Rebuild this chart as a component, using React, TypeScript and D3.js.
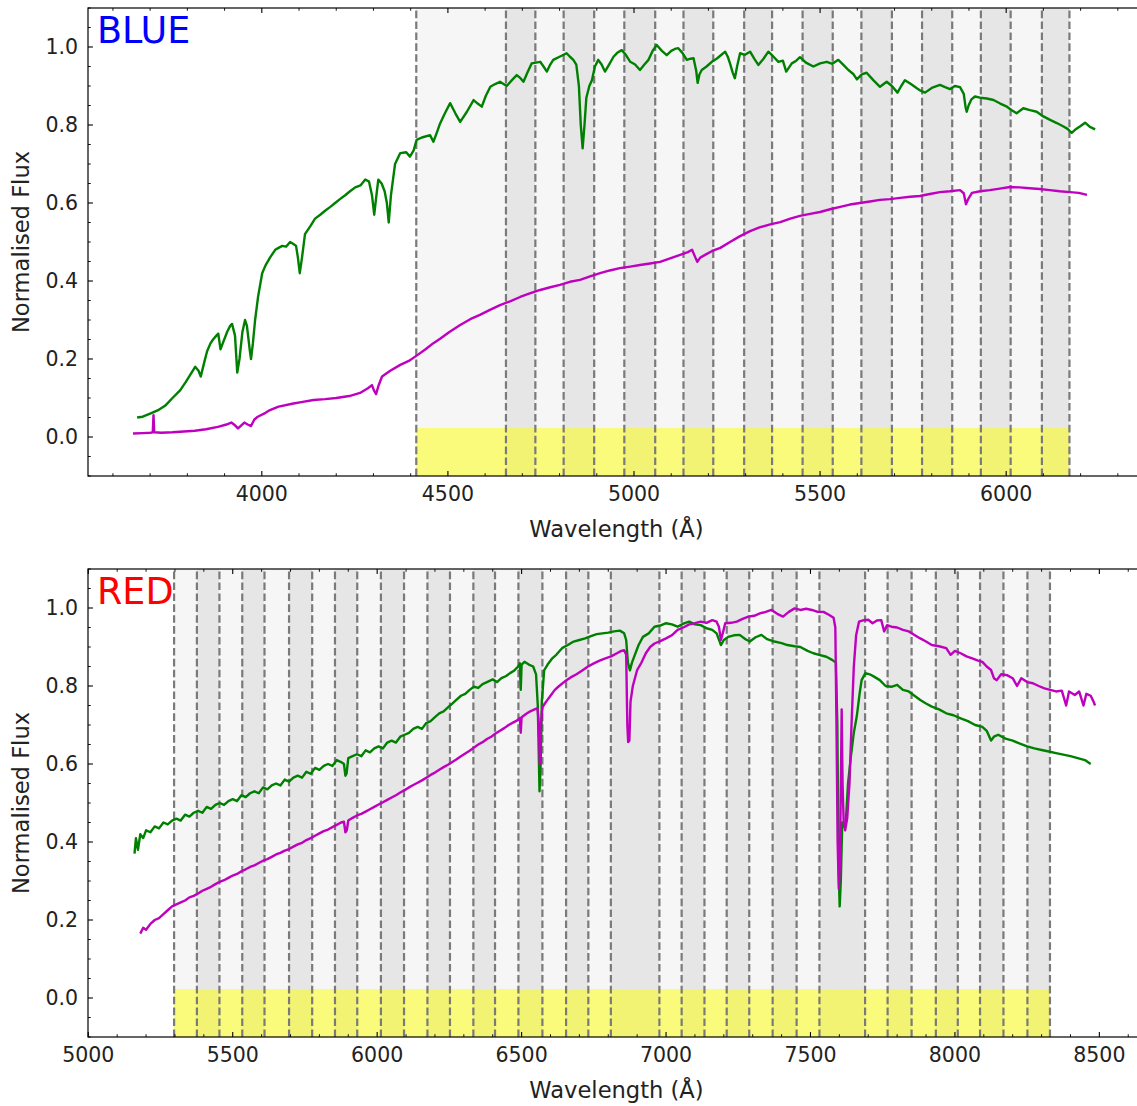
import React from 'react';
import * as d3 from 'd3';

type Pt = [number, number];

// ---------- data ----------
const topXTicks = [4000, 4500, 5000, 5500, 6000];
const botXTicks = [5000, 5500, 6000, 6500, 7000, 7500, 8000, 8500];
const yTicks = [0.0, 0.2, 0.4, 0.6, 0.8, 1.0];

const topEdges = [4415, 4656, 4735, 4811, 4893, 4974, 5057, 5133, 5213, 5296, 5371, 5453, 5534, 5611, 5693, 5774, 5855, 5932, 6012, 6096, 6170];
const botEdges = [5297, 5376, 5454, 5533, 5610, 5695, 5775, 5854, 5931, 6013, 6093, 6174, 6252, 6333, 6408, 6489, 6572, 6654, 6731, 6809, 6977, 7054, 7133, 7210, 7288, 7369, 7452, 7531, 7689, 7767, 7850, 7934, 8010, 8087, 8168, 8251, 8329];

const blueGreen: Pt[] = [[3665,0.05],[3680,0.052],[3700,0.06],[3720,0.068],[3740,0.08],[3760,0.1],[3781,0.12],[3795,0.14],[3808,0.16],[3821,0.18],[3830,0.17],[3836,0.155],[3845,0.19],[3853,0.22],[3862,0.24],[3869,0.25],[3878,0.26],[3883,0.265],[3889,0.225],[3895,0.24],[3907,0.27],[3915,0.285],[3920,0.29],[3928,0.26],[3934,0.165],[3940,0.2],[3948,0.27],[3955,0.3],[3960,0.285],[3968,0.22],[3971,0.2],[3976,0.24],[3982,0.3],[3990,0.36],[4001,0.42],[4010,0.44],[4022,0.46],[4036,0.48],[4045,0.485],[4055,0.49],[4065,0.488],[4076,0.5],[4085,0.495],[4092,0.49],[4097,0.46],[4102,0.42],[4108,0.46],[4116,0.52],[4130,0.54],[4143,0.56],[4157,0.57],[4170,0.58],[4184,0.59],[4197,0.6],[4210,0.61],[4224,0.62],[4237,0.63],[4251,0.64],[4265,0.645],[4278,0.66],[4288,0.655],[4296,0.62],[4302,0.57],[4308,0.62],[4313,0.66],[4322,0.65],[4330,0.63],[4336,0.6],[4341,0.55],[4347,0.62],[4358,0.70],[4372,0.728],[4388,0.73],[4398,0.719],[4408,0.735],[4416,0.762],[4430,0.768],[4452,0.774],[4461,0.757],[4470,0.78],[4479,0.804],[4492,0.83],[4506,0.856],[4520,0.83],[4533,0.808],[4551,0.834],[4569,0.864],[4580,0.855],[4591,0.847],[4602,0.875],[4614,0.898],[4627,0.905],[4640,0.911],[4658,0.9],[4672,0.915],[4685,0.928],[4695,0.92],[4703,0.911],[4714,0.935],[4725,0.958],[4737,0.96],[4748,0.962],[4757,0.95],[4766,0.937],[4775,0.955],[4783,0.967],[4800,0.975],[4819,0.984],[4828,0.975],[4837,0.967],[4845,0.955],[4852,0.9],[4857,0.8],[4862,0.74],[4867,0.8],[4872,0.87],[4880,0.9],[4887,0.915],[4895,0.95],[4904,0.967],[4913,0.955],[4922,0.937],[4933,0.955],[4945,0.975],[4955,0.985],[4967,0.992],[4978,0.98],[4990,0.962],[5003,0.955],[5016,0.941],[5028,0.955],[5039,0.967],[5050,0.99],[5061,1.005],[5075,0.99],[5088,0.979],[5100,0.99],[5110,0.995],[5119,0.997],[5130,0.985],[5142,0.967],[5152,0.97],[5160,0.971],[5167,0.94],[5171,0.908],[5176,0.93],[5182,0.941],[5195,0.95],[5209,0.962],[5222,0.97],[5235,0.98],[5245,0.988],[5252,0.975],[5258,0.958],[5265,0.935],[5271,0.92],[5277,0.95],[5285,0.984],[5298,0.98],[5312,0.988],[5323,0.97],[5334,0.954],[5348,0.97],[5361,0.988],[5375,0.975],[5388,0.962],[5400,0.965],[5409,0.937],[5424,0.958],[5436,0.965],[5446,0.974],[5462,0.96],[5482,0.95],[5500,0.958],[5518,0.962],[5533,0.957],[5549,0.967],[5562,0.955],[5576,0.941],[5590,0.93],[5599,0.917],[5612,0.93],[5625,0.934],[5643,0.915],[5661,0.898],[5679,0.911],[5693,0.9],[5708,0.883],[5718,0.9],[5728,0.915],[5744,0.905],[5760,0.894],[5770,0.888],[5782,0.883],[5800,0.895],[5822,0.903],[5836,0.897],[5849,0.892],[5862,0.9],[5876,0.897],[5886,0.88],[5891,0.845],[5894,0.834],[5899,0.85],[5906,0.865],[5916,0.873],[5930,0.87],[5948,0.868],[5966,0.864],[5984,0.855],[6002,0.847],[6015,0.838],[6028,0.83],[6046,0.843],[6064,0.838],[6082,0.834],[6100,0.822],[6118,0.813],[6136,0.805],[6154,0.796],[6165,0.79],[6176,0.78],[6188,0.79],[6199,0.797],[6212,0.806],[6225,0.795],[6239,0.789]];

const blueMagenta: Pt[] = [[3654,0.009],[3680,0.01],[3700,0.011],[3707,0.012],[3709,0.056],[3711,0.012],[3730,0.011],[3760,0.012],[3790,0.014],[3820,0.016],[3850,0.02],[3882,0.026],[3905,0.032],[3918,0.037],[3928,0.03],[3936,0.022],[3945,0.03],[3953,0.037],[3962,0.032],[3971,0.028],[3980,0.045],[3989,0.052],[4010,0.062],[4022,0.069],[4045,0.078],[4085,0.086],[4110,0.09],[4139,0.095],[4170,0.097],[4200,0.1],[4235,0.105],[4264,0.113],[4285,0.125],[4296,0.133],[4301,0.12],[4307,0.11],[4313,0.13],[4323,0.155],[4345,0.17],[4372,0.185],[4395,0.195],[4415,0.208],[4440,0.225],[4460,0.24],[4479,0.252],[4505,0.27],[4533,0.287],[4560,0.302],[4586,0.313],[4613,0.326],[4640,0.338],[4667,0.348],[4694,0.359],[4720,0.368],[4748,0.377],[4775,0.384],[4801,0.39],[4828,0.398],[4855,0.403],[4882,0.412],[4909,0.42],[4935,0.427],[4962,0.433],[4990,0.437],[5016,0.441],[5043,0.445],[5070,0.449],[5097,0.458],[5124,0.467],[5145,0.474],[5156,0.48],[5165,0.46],[5170,0.449],[5178,0.46],[5191,0.467],[5210,0.477],[5232,0.485],[5258,0.5],[5285,0.515],[5312,0.528],[5339,0.538],[5366,0.545],[5393,0.551],[5420,0.56],[5446,0.567],[5473,0.572],[5500,0.577],[5527,0.584],[5554,0.59],[5580,0.596],[5607,0.6],[5634,0.604],[5661,0.608],[5688,0.61],[5715,0.613],[5742,0.616],[5768,0.618],[5795,0.623],[5822,0.628],[5849,0.63],[5876,0.633],[5886,0.625],[5892,0.597],[5898,0.61],[5908,0.626],[5930,0.63],[5956,0.633],[5983,0.637],[6010,0.641],[6036,0.64],[6063,0.638],[6090,0.636],[6117,0.633],[6144,0.63],[6171,0.628],[6195,0.626],[6217,0.621]];

const redGreen: Pt[] = [[5160,0.37],[5165,0.41],[5172,0.38],[5180,0.42],[5190,0.41],[5200,0.43],[5215,0.425],[5230,0.44],[5245,0.435],[5260,0.45],[5275,0.445],[5290,0.455],[5305,0.46],[5320,0.455],[5335,0.47],[5350,0.465],[5365,0.475],[5380,0.48],[5395,0.475],[5410,0.49],[5425,0.485],[5440,0.495],[5455,0.5],[5470,0.495],[5485,0.505],[5500,0.51],[5515,0.505],[5530,0.52],[5545,0.515],[5560,0.525],[5575,0.53],[5590,0.525],[5605,0.54],[5620,0.535],[5635,0.545],[5650,0.55],[5665,0.545],[5680,0.56],[5695,0.555],[5710,0.565],[5725,0.57],[5740,0.565],[5755,0.58],[5770,0.575],[5785,0.59],[5800,0.585],[5815,0.595],[5830,0.6],[5845,0.595],[5860,0.61],[5875,0.605],[5885,0.6],[5890,0.57],[5894,0.575],[5900,0.615],[5915,0.62],[5930,0.625],[5945,0.62],[5960,0.635],[5975,0.63],[5990,0.64],[6005,0.645],[6020,0.64],[6035,0.655],[6050,0.66],[6065,0.655],[6080,0.67],[6095,0.675],[6110,0.68],[6125,0.69],[6140,0.695],[6155,0.69],[6170,0.705],[6185,0.71],[6200,0.72],[6215,0.73],[6230,0.735],[6245,0.745],[6260,0.755],[6275,0.765],[6290,0.775],[6305,0.78],[6320,0.79],[6335,0.798],[6350,0.795],[6365,0.805],[6380,0.81],[6400,0.817],[6415,0.81],[6430,0.82],[6445,0.825],[6460,0.833],[6475,0.84],[6488,0.85],[6494,0.858],[6497,0.79],[6500,0.855],[6510,0.862],[6525,0.855],[6540,0.85],[6550,0.83],[6556,0.75],[6562,0.53],[6566,0.6],[6570,0.76],[6578,0.84],[6590,0.855],[6605,0.87],[6620,0.88],[6640,0.897],[6660,0.905],[6680,0.914],[6700,0.918],[6720,0.922],[6740,0.928],[6760,0.933],[6780,0.935],[6800,0.937],[6820,0.94],[6840,0.942],[6855,0.935],[6862,0.918],[6868,0.86],[6875,0.84],[6882,0.86],[6892,0.88],[6905,0.905],[6920,0.926],[6940,0.935],[6960,0.952],[6980,0.955],[7000,0.961],[7020,0.958],[7040,0.952],[7060,0.96],[7080,0.965],[7100,0.958],[7120,0.956],[7140,0.948],[7160,0.944],[7175,0.935],[7190,0.905],[7200,0.918],[7215,0.926],[7235,0.93],[7255,0.931],[7275,0.92],[7290,0.914],[7310,0.925],[7330,0.931],[7350,0.92],[7375,0.914],[7400,0.91],[7420,0.905],[7445,0.902],[7465,0.9],[7490,0.89],[7510,0.884],[7530,0.88],[7555,0.875],[7575,0.867],[7588,0.86],[7593,0.7],[7597,0.35],[7601,0.235],[7605,0.3],[7610,0.45],[7616,0.44],[7622,0.45],[7630,0.55],[7640,0.62],[7650,0.68],[7660,0.721],[7670,0.78],[7677,0.815],[7690,0.833],[7705,0.83],[7720,0.824],[7740,0.815],[7760,0.8],[7780,0.798],[7800,0.803],[7820,0.79],[7840,0.786],[7860,0.775],[7880,0.764],[7900,0.755],[7920,0.747],[7945,0.74],[7970,0.73],[7995,0.725],[8020,0.717],[8045,0.71],[8070,0.7],[8095,0.695],[8110,0.685],[8125,0.66],[8135,0.67],[8150,0.675],[8175,0.665],[8200,0.66],[8225,0.652],[8250,0.645],[8275,0.64],[8300,0.636],[8325,0.632],[8350,0.628],[8375,0.624],[8400,0.62],[8425,0.615],[8450,0.61],[8470,0.6]];

const redMagenta: Pt[] = [[5180,0.165],[5190,0.18],[5200,0.175],[5215,0.19],[5230,0.2],[5245,0.205],[5260,0.215],[5275,0.225],[5290,0.235],[5305,0.24],[5320,0.245],[5335,0.25],[5350,0.258],[5365,0.262],[5380,0.268],[5395,0.275],[5410,0.28],[5425,0.285],[5440,0.292],[5455,0.298],[5470,0.302],[5485,0.308],[5500,0.314],[5515,0.318],[5530,0.325],[5545,0.33],[5560,0.336],[5575,0.34],[5590,0.346],[5605,0.352],[5620,0.356],[5635,0.362],[5650,0.368],[5665,0.372],[5680,0.378],[5695,0.382],[5710,0.388],[5725,0.394],[5740,0.398],[5755,0.405],[5770,0.41],[5785,0.416],[5800,0.422],[5815,0.428],[5830,0.432],[5845,0.438],[5860,0.444],[5875,0.45],[5885,0.452],[5890,0.425],[5895,0.43],[5900,0.455],[5915,0.462],[5930,0.468],[5945,0.472],[5960,0.478],[5975,0.484],[5990,0.49],[6005,0.496],[6020,0.502],[6035,0.508],[6050,0.514],[6065,0.52],[6080,0.527],[6095,0.533],[6110,0.54],[6125,0.546],[6140,0.552],[6155,0.558],[6170,0.565],[6185,0.572],[6200,0.578],[6215,0.585],[6230,0.592],[6245,0.598],[6260,0.605],[6275,0.612],[6290,0.62],[6305,0.627],[6320,0.634],[6335,0.642],[6350,0.65],[6365,0.656],[6380,0.664],[6395,0.67],[6410,0.678],[6425,0.685],[6440,0.692],[6455,0.7],[6470,0.706],[6485,0.712],[6494,0.718],[6497,0.68],[6500,0.72],[6515,0.728],[6530,0.735],[6545,0.74],[6555,0.743],[6560,0.7],[6563,0.6],[6567,0.7],[6572,0.745],[6585,0.76],[6600,0.775],[6615,0.79],[6630,0.8],[6650,0.812],[6670,0.822],[6690,0.83],[6710,0.84],[6730,0.85],[6750,0.858],[6770,0.865],[6790,0.871],[6810,0.876],[6830,0.884],[6845,0.89],[6855,0.892],[6862,0.88],[6866,0.7],[6869,0.656],[6873,0.66],[6877,0.76],[6885,0.8],[6900,0.841],[6915,0.86],[6930,0.884],[6945,0.9],[6960,0.909],[6980,0.915],[7000,0.922],[7020,0.93],[7040,0.944],[7060,0.95],[7080,0.958],[7100,0.961],[7120,0.965],[7140,0.962],[7160,0.969],[7175,0.965],[7183,0.952],[7190,0.918],[7198,0.94],[7205,0.961],[7225,0.962],[7245,0.965],[7265,0.972],[7285,0.978],[7305,0.98],[7325,0.986],[7345,0.99],[7365,0.995],[7385,0.985],[7405,0.978],[7425,0.99],[7445,0.999],[7465,0.995],[7485,0.998],[7505,0.995],[7525,0.99],[7545,0.99],[7565,0.982],[7580,0.975],[7586,0.95],[7590,0.7],[7594,0.4],[7598,0.28],[7602,0.35],[7606,0.6],[7608,0.74],[7611,0.55],[7615,0.45],[7620,0.43],[7627,0.46],[7635,0.55],[7642,0.7],[7650,0.85],[7658,0.93],[7668,0.965],[7685,0.969],[7700,0.97],[7715,0.961],[7730,0.968],[7745,0.969],[7755,0.94],[7765,0.956],[7780,0.952],[7800,0.95],[7820,0.944],[7840,0.94],[7860,0.931],[7880,0.922],[7900,0.914],[7920,0.905],[7945,0.902],[7970,0.897],[7985,0.88],[8000,0.89],[8020,0.884],[8040,0.876],[8060,0.871],[8080,0.865],[8095,0.862],[8110,0.85],[8125,0.841],[8135,0.82],[8145,0.815],[8160,0.83],[8180,0.828],[8200,0.82],[8215,0.8],[8230,0.82],[8250,0.81],[8270,0.807],[8290,0.8],[8310,0.794],[8330,0.79],[8350,0.786],[8370,0.788],[8385,0.75],[8395,0.786],[8415,0.777],[8430,0.786],[8445,0.75],[8455,0.78],[8470,0.775],[8480,0.76],[8485,0.75]];

// ---------- layout ----------
const FONT = "'DejaVu Sans', sans-serif";
const AX_LEFT = 88;
const AX_RIGHT = 1145;
const AX_H = 468;

interface PanelProps {
  id: string;
  top: number;
  xDomain: [number, number];
  xTicks: number[];
  edges: number[];
  green: Pt[];
  magenta: Pt[];
  title: string;
  titleColor: string;
}

function Panel({ id, top, xDomain, xTicks, edges, green, magenta, title, titleColor }: PanelProps) {
  const bottom = top + AX_H;
  const x = d3.scaleLinear().domain(xDomain).range([AX_LEFT, AX_RIGHT]);
  const y = d3.scaleLinear().domain([-0.1, 1.1]).range([bottom, top]);
  const line = d3.line<Pt>().x(d => x(d[0])).y(d => y(d[1]));

  const bands = edges.slice(0, -1).map((a, i) => ({ a, b: edges[i + 1], dark: i % 2 === 1 }));
  const minorX = d3.range(Math.ceil(xDomain[0] / 100) * 100, xDomain[1], 100).filter(v => v % 500 !== 0);
  const minorY = d3.range(-2, 23).filter(k => !(k % 4 === 0 && k >= 0 && k <= 20)).map(k => k * 0.05);
  const clipId = `clip-${id}`;
  const tickCol = '#000';
  const textCol = '#222';

  return (
    <g>
      <defs>
        <clipPath id={clipId}>
          <rect x={AX_LEFT} y={top} width={AX_RIGHT - AX_LEFT} height={AX_H} />
        </clipPath>
      </defs>
      {bands.map((b, i) => (
        <rect key={`b${i}`} x={x(b.a)} y={top} width={x(b.b) - x(b.a)} height={AX_H}
          fill={b.dark ? '#e6e6e6' : '#f6f6f6'} />
      ))}
      <rect x={x(edges[0])} y={y(0.023)} width={x(edges[edges.length - 1]) - x(edges[0])}
        height={bottom - y(0.023)} fill="#ffff00" fillOpacity={0.5} />
      {edges.map((e, i) => (
        <line key={`e${i}`} x1={x(e)} x2={x(e)} y1={bottom} y2={top}
          stroke="#7a7a7a" strokeWidth={2.2} strokeDasharray="7.6 3.3" />
      ))}
      <g clipPath={`url(#${clipId})`}>
        <path d={line(green) || ''} fill="none" stroke="#008000" strokeWidth={2.4} strokeLinejoin="round" />
        <path d={line(magenta) || ''} fill="none" stroke="#bf00bf" strokeWidth={2.4} strokeLinejoin="round" />
      </g>
      <rect x={AX_LEFT} y={top} width={AX_RIGHT - AX_LEFT} height={AX_H} fill="none" stroke="#000" strokeWidth={1.2} />
      {xTicks.map(t => (
        <g key={`xt${t}`}>
          <line x1={x(t)} x2={x(t)} y1={bottom} y2={bottom - 4.9} stroke={tickCol} strokeWidth={1.1} />
          <line x1={x(t)} x2={x(t)} y1={top} y2={top + 4.9} stroke={tickCol} strokeWidth={1.1} />
          <text x={x(t)} y={bottom + 25} textAnchor="middle" fontFamily={FONT} fontSize={20.5} fill={textCol}>{t}</text>
        </g>
      ))}
      {minorX.map(t => (
        <g key={`xm${t}`}>
          <line x1={x(t)} x2={x(t)} y1={bottom} y2={bottom - 2.8} stroke={tickCol} strokeWidth={0.9} />
          <line x1={x(t)} x2={x(t)} y1={top} y2={top + 2.8} stroke={tickCol} strokeWidth={0.9} />
        </g>
      ))}
      {yTicks.map(t => (
        <g key={`yt${t}`}>
          <line x1={AX_LEFT} x2={AX_LEFT + 4.9} y1={y(t)} y2={y(t)} stroke={tickCol} strokeWidth={1.1} />
          <text x={AX_LEFT - 10} y={y(t)} dy="0.36em" textAnchor="end" fontFamily={FONT} fontSize={20.5} fill={textCol}>{t.toFixed(1)}</text>
        </g>
      ))}
      {minorY.map(t => (
        <line key={`ym${t}`} x1={AX_LEFT} x2={AX_LEFT + 2.8} y1={y(t)} y2={y(t)} stroke={tickCol} strokeWidth={0.9} />
      ))}
      <text x={(AX_LEFT + AX_RIGHT) / 2} y={bottom + 60.5} textAnchor="middle" fontFamily={FONT} fontSize={22.6} fill={textCol}>Wavelength (Å)</text>
      <text transform={`translate(29,${(top + bottom) / 2}) rotate(-90)`} textAnchor="middle" fontFamily={FONT} fontSize={22.6} fill={textCol}>Normalised Flux</text>
      <text x={97} y={top + 34.5} fontFamily={FONT} fontSize={36.5} fill={titleColor}>{title}</text>
    </g>
  );
}

export default function App() {
  return (
    <svg width={1137} height={1106} style={{ position: 'absolute', left: 0, top: 0, background: '#fff' }}>
      <Panel id="blue" top={8} xDomain={[3533, 6373]} xTicks={topXTicks} edges={topEdges}
        green={blueGreen} magenta={blueMagenta} title="BLUE" titleColor="#0000ff" />
      <Panel id="red" top={569} xDomain={[4999, 8658]} xTicks={botXTicks} edges={botEdges}
        green={redGreen} magenta={redMagenta} title="RED" titleColor="#ff0000" />
    </svg>
  );
}
